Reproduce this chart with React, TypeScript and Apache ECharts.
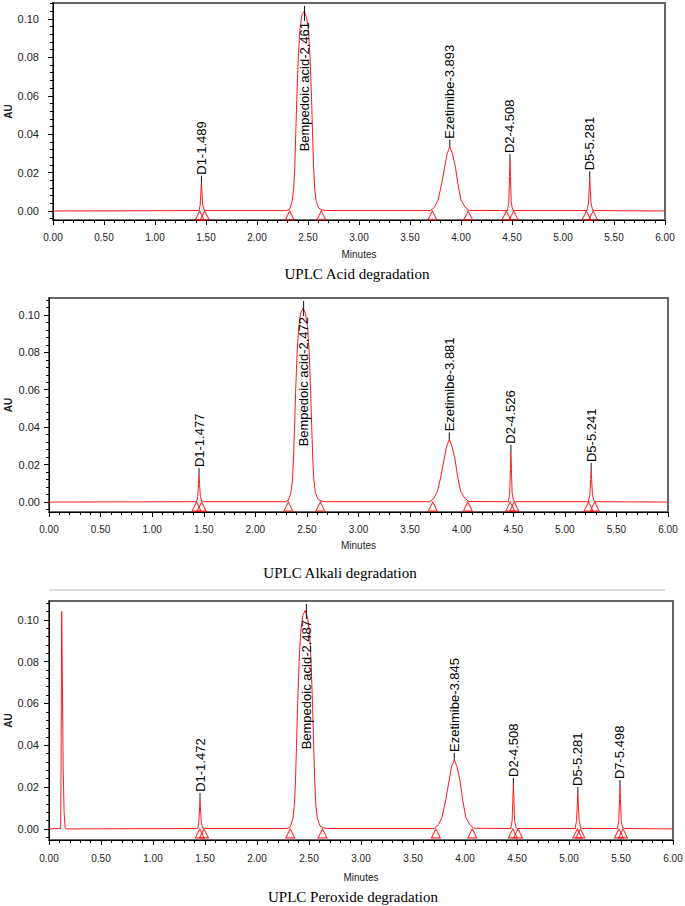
import React, { useEffect, useRef } from "react";
import * as echarts from "echarts";

type Pt = [number, number];
type Peak = { label: string; t: number; h: number };

// ---- axis tick values ----
const minuteTicks = [0, 0.5, 1, 1.5, 2, 2.5, 3, 3.5, 4, 4.5, 5, 5.5, 6];
const auTicks = [0, 0.02, 0.04, 0.06, 0.08, 0.1];
const auMinorTicks = [
  -0.004, 0.004, 0.008, 0.012, 0.016, 0.024, 0.028, 0.032, 0.036, 0.044, 0.048, 0.052, 0.056,
  0.064, 0.068, 0.072, 0.076, 0.084, 0.088, 0.092, 0.096, 0.104, 0.108,
];

// ---- Acid degradation ----
const acidTrace: Pt[] = [
  [0.0, 0.0], [1.43, 0.0002], [1.443, 0.003], [1.45, 0.01], [1.455, 0.0147], [1.46, 0.01], [1.468, 0.003], [1.48, 0.0006], [1.5, 0.0002],
  [2.28, 0.0002], [2.3, 0.0004], [2.32, 0.001], [2.345, 0.005], [2.36, 0.012], [2.37, 0.023], [2.38, 0.04], [2.39, 0.058], [2.405, 0.08], [2.42, 0.094], [2.44, 0.102], [2.462, 0.104], [2.485, 0.101], [2.505, 0.094], [2.52, 0.08], [2.535, 0.058], [2.545, 0.04], [2.555, 0.023], [2.565, 0.012], [2.58, 0.005], [2.605, 0.0015], [2.64, 0.0005], [2.68, 0.0002],
  [3.7, 0.0002], [3.74, 0.002], [3.775, 0.0057], [3.81, 0.014], [3.84, 0.023], [3.865, 0.03], [3.89, 0.0335], [3.915, 0.03], [3.945, 0.023], [3.97, 0.014], [4.0, 0.0057], [4.04, 0.002], [4.08, 0.0003],
  [4.455, 0.0002], [4.468, 0.004], [4.476, 0.018], [4.48, 0.026], [4.485, 0.018], [4.492, 0.005], [4.505, 0.0008], [4.52, 0.0002],
  [5.235, 0.0002], [5.25, 0.004], [5.257, 0.012], [5.262, 0.017], [5.267, 0.012], [5.275, 0.004], [5.29, 0.0006], [5.31, 0.0002],
  [6.0, 0.0],
];
const acidPeaks: Peak[] = [
  { label: "D1-1.489", t: 1.455, h: 0.0147 },
  { label: "Bempedoic acid-2.461", t: 2.466, h: 0.104 },
  { label: "Ezetimibe-3.893", t: 3.89, h: 0.0335 },
  { label: "D2-4.508", t: 4.48, h: 0.026 },
  { label: "D5-5.281", t: 5.262, h: 0.017 },
];
const acidMarks = [1.438, 1.487, 2.32, 2.63, 3.72, 4.07, 4.445, 4.517, 5.23, 5.295];

// ---- Alkali degradation ----
const alkaliTrace: Pt[] = [
  [0.0, 0.0], [1.43, 0.0002], [1.442, 0.003], [1.449, 0.01], [1.454, 0.0144], [1.459, 0.01], [1.467, 0.003], [1.479, 0.0006], [1.5, 0.0002],
  [2.28, 0.0002], [2.3, 0.0004], [2.32, 0.001], [2.345, 0.005], [2.36, 0.012], [2.37, 0.023], [2.38, 0.04], [2.39, 0.058], [2.405, 0.08], [2.42, 0.093], [2.44, 0.101], [2.464, 0.1036], [2.487, 0.1005], [2.507, 0.093], [2.522, 0.08], [2.537, 0.058], [2.547, 0.04], [2.557, 0.023], [2.567, 0.012], [2.582, 0.005], [2.607, 0.0015], [2.64, 0.0005], [2.68, 0.0002],
  [3.69, 0.0002], [3.73, 0.002], [3.765, 0.0057], [3.8, 0.014], [3.83, 0.023], [3.855, 0.03], [3.88, 0.0335], [3.905, 0.03], [3.935, 0.023], [3.96, 0.014], [3.99, 0.0057], [4.03, 0.002], [4.07, 0.0003],
  [4.452, 0.0002], [4.465, 0.004], [4.473, 0.018], [4.477, 0.0269], [4.482, 0.018], [4.489, 0.005], [4.502, 0.0008], [4.517, 0.0002],
  [5.228, 0.0002], [5.243, 0.004], [5.25, 0.012], [5.255, 0.0171], [5.26, 0.012], [5.268, 0.004], [5.283, 0.0006], [5.303, 0.0002],
  [6.0, 0.0],
];
const alkaliPeaks: Peak[] = [
  { label: "D1-1.477", t: 1.454, h: 0.0144 },
  { label: "Bempedoic acid-2.472", t: 2.468, h: 0.1036 },
  { label: "Ezetimibe-3.881", t: 3.88, h: 0.0335 },
  { label: "D2-4.526", t: 4.477, h: 0.0269 },
  { label: "D5-5.241", t: 5.255, h: 0.0171 },
];
const alkaliMarks = [1.43, 1.48, 2.32, 2.63, 3.72, 4.06, 4.47, 4.51, 5.23, 5.29];

// ---- Peroxide degradation ----
const peroxideTrace: Pt[] = [
  [0.0, 0.0], [0.112, 0.0002], [0.116, 0.03], [0.122, 0.104], [0.128, 0.075], [0.136, 0.03], [0.145, 0.008], [0.155, 0.0005], [0.17, 0.0],
  [1.43, 0.0002], [1.44, 0.003], [1.447, 0.009], [1.452, 0.0139], [1.457, 0.009], [1.465, 0.003], [1.477, 0.0006], [1.5, 0.0002],
  [2.28, 0.0002], [2.3, 0.0004], [2.32, 0.001], [2.345, 0.005], [2.36, 0.012], [2.37, 0.023], [2.38, 0.04], [2.39, 0.058], [2.405, 0.08], [2.42, 0.094], [2.44, 0.102], [2.462, 0.1045], [2.485, 0.1015], [2.505, 0.094], [2.52, 0.08], [2.535, 0.058], [2.545, 0.04], [2.555, 0.023], [2.565, 0.012], [2.58, 0.005], [2.605, 0.0015], [2.64, 0.0005], [2.68, 0.0002],
  [3.7, 0.0002], [3.745, 0.002], [3.78, 0.0057], [3.815, 0.014], [3.847, 0.023], [3.872, 0.03], [3.897, 0.033], [3.922, 0.03], [3.952, 0.023], [3.977, 0.014], [4.007, 0.0057], [4.045, 0.002], [4.085, 0.0003],
  [4.44, 0.0002], [4.453, 0.004], [4.461, 0.015], [4.465, 0.021], [4.47, 0.015], [4.477, 0.004], [4.49, 0.0008], [4.505, 0.0002],
  [5.06, 0.0002], [5.073, 0.004], [5.08, 0.012], [5.085, 0.0167], [5.09, 0.012], [5.098, 0.004], [5.112, 0.0006], [5.13, 0.0002],
  [5.465, 0.0002], [5.478, 0.004], [5.486, 0.014], [5.49, 0.02], [5.495, 0.014], [5.502, 0.004], [5.515, 0.0006], [5.535, 0.0002],
  [6.0, 0.0],
];
const peroxidePeaks: Peak[] = [
  { label: "D1-1.472", t: 1.452, h: 0.0139 },
  { label: "Bempedoic acid-2.487", t: 2.475, h: 0.1045 },
  { label: "Ezetimibe-3.845", t: 3.897, h: 0.033 },
  { label: "D2-4.508", t: 4.465, h: 0.021 },
  { label: "D5-5.281", t: 5.085, h: 0.0167 },
  { label: "D7-5.498", t: 5.49, h: 0.02 },
];
const peroxideMarks = [1.45, 1.49, 2.32, 2.63, 3.72, 4.07, 4.46, 4.51, 5.08, 5.11, 5.48, 5.52];

const titles = ["UPLC Acid degradation", "UPLC Alkali degradation", "UPLC Peroxide degradation"];

const panels = [
  { trace: acidTrace, peaks: acidPeaks, marks: acidMarks },
  { trace: alkaliTrace, peaks: alkaliPeaks, marks: alkaliMarks },
  { trace: peroxideTrace, peaks: peroxidePeaks, marks: peroxideMarks },
];

// layout (pixels)
const layouts = [
  { left: 53, top: 3, width: 612, height: 217, ymin: -0.0047, ymax: 0.1083, xm: 12, xg: 29, ym: 14, yg: 40, tx: 357, ty: 274 },
  { left: 49, top: 298, width: 619, height: 214, ymin: -0.0053, ymax: 0.109, xm: 12, xg: 28, ym: 9, yg: 36, tx: 340, ty: 573 },
  { left: 49, top: 601, width: 624, height: 239, ymin: -0.0053, ymax: 0.109, xm: 13, xg: 32, ym: 10, yg: 36, tx: 353, ty: 897 },
];

const SANS = '"Liberation Sans", Arial, Helvetica, sans-serif';
const SERIF = '"Liberation Serif", "Times New Roman", serif';
const RED = "#ff1a1a";

export default function App() {
  const ref = useRef<HTMLDivElement>(null);
  useEffect(() => {
    if (!ref.current) return;
    const chart = echarts.init(ref.current, undefined, { renderer: "svg" });

    const grid: any[] = [];
    const xAxis: any[] = [];
    const yAxis: any[] = [];
    const series: any[] = [];

    layouts.forEach((L, i) => {
      const P = panels[i];
      grid.push({
        left: L.left,
        top: L.top,
        width: L.width,
        height: L.height,
        containLabel: false,
        outerBoundsMode: "none",
        show: true,
        borderColor: "#666",
        borderWidth: 2,
        backgroundColor: "transparent",
      });
      xAxis.push({
        gridIndex: i,
        type: "value",
        min: minuteTicks[0],
        max: minuteTicks[minuteTicks.length - 1],
        interval: 0.5,
        axisLine: { show: true, onZero: false, lineStyle: { color: "#000", width: 1 } },
        axisTick: { show: true, length: 5, lineStyle: { color: "#000" } },
        minorTick: { show: true, splitNumber: 5, length: 3, lineStyle: { color: "#000" } },
        splitLine: { show: false },
        minorSplitLine: { show: false },
        axisLabel: {
          formatter: (v: number) => v.toFixed(2),
          fontSize: 10,
          color: "#222",
          margin: L.xm,
          fontFamily: SANS,
        },
        name: "Minutes",
        nameLocation: "middle",
        nameGap: L.xg,
        nameMoveOverlap: false,
        nameTextStyle: { fontSize: 10, color: "#222", fontFamily: SANS },
      });
      yAxis.push({
        gridIndex: i,
        type: "value",
        min: L.ymin,
        max: L.ymax,
        position: "left",
        axisLine: { show: true, onZero: false, lineStyle: { color: "#000", width: 1 } },
        axisTick: { show: true, length: 5, customValues: auTicks, lineStyle: { color: "#000" } },
        axisLabel: {
          customValues: auTicks,
          formatter: (v: number) => v.toFixed(2),
          fontSize: 11,
          color: "#222",
          margin: L.ym,
          fontFamily: SANS,
        },
        splitLine: { show: false },
        name: "AU",
        nameLocation: "middle",
        nameRotate: 90,
        nameGap: L.yg,
        nameMoveOverlap: false,
        nameTextStyle: { fontSize: 10, fontWeight: "bold", color: "#222", fontFamily: SANS },
      });
      yAxis.push({
        gridIndex: i,
        type: "value",
        min: L.ymin,
        max: L.ymax,
        position: "left",
        axisLine: { show: false },
        axisTick: { show: true, length: 3, customValues: auMinorTicks, lineStyle: { color: "#000" } },
        axisLabel: { show: false },
        splitLine: { show: false },
      });

      series.push({
        type: "line",
        xAxisIndex: i,
        yAxisIndex: 2 * i,
        data: P.trace,
        showSymbol: false,
        symbol: "none",
        lineStyle: { color: RED, width: 1 },
        z: 2,
        silent: true,
      });
      series.push({
        type: "scatter",
        xAxisIndex: i,
        yAxisIndex: 2 * i,
        data: P.marks.map((t) => [t, 0]),
        symbol: "triangle",
        symbolSize: [9, 9],
        symbolOffset: [0, 4.5],
        itemStyle: { color: "rgba(0,0,0,0)", borderColor: "#ff0000", borderWidth: 1.1 },
        z: 3,
        silent: true,
      });
      const peaks = P.peaks;
      series.push({
        type: "custom",
        xAxisIndex: i,
        yAxisIndex: 2 * i,
        data: peaks.map((p) => [p.t, p.h]),
        encode: { x: 0, y: 1 },
        clip: false,
        silent: true,
        z: 4,
        renderItem: (params: any, api: any) => {
          const pk = peaks[params.dataIndex];
          const p = api.coord([pk.t, pk.h]);
          const cs = params.coordSys;
          const font = "13px " + SANS;
          if (pk.h > 0.08) {
            const y0 = cs.y + 3;
            const y1 = cs.y + 18;
            return {
              type: "group",
              children: [
                { type: "line", shape: { x1: p[0], y1: y0, x2: p[0], y2: y1 }, style: { stroke: "#111", lineWidth: 1 } },
                {
                  type: "text",
                  x: p[0],
                  y: y1 + 1,
                  rotation: Math.PI / 2,
                  style: {
                    text: pk.label,
                    font,
                    fill: "#000",
                    align: "right",
                    verticalAlign: "middle",
                    textAlign: "right",
                    textVerticalAlign: "middle",
                  },
                },
              ],
            };
          }
          const yt = p[1] - 7;
          return {
            type: "group",
            children: [
              { type: "line", shape: { x1: p[0], y1: p[1], x2: p[0], y2: yt }, style: { stroke: "#111", lineWidth: 1 } },
              {
                type: "text",
                x: p[0],
                y: yt - 1,
                rotation: Math.PI / 2,
                style: {
                  text: pk.label,
                  font,
                  fill: "#000",
                  align: "left",
                  verticalAlign: "middle",
                  textAlign: "left",
                  textVerticalAlign: "middle",
                },
              },
            ],
          };
        },
      });
    });

    const graphic: any[] = layouts.map((L, i) => ({
      type: "text",
      x: L.tx,
      y: L.ty,
      style: {
        text: titles[i],
        font: "15px " + SERIF,
        fill: "#000",
        align: "center",
        verticalAlign: "middle",
        textAlign: "center",
        textVerticalAlign: "middle",
      },
    }));
    graphic.push({
      type: "line",
      shape: { x1: 49, y1: 590, x2: 665, y2: 590 },
      style: { stroke: "#bbb", lineWidth: 1 },
    });

    chart.setOption({
      animation: false,
      backgroundColor: "#fff",
      textStyle: { fontFamily: SANS },
      grid,
      xAxis,
      yAxis,
      series,
      graphic,
    });
    return () => chart.dispose();
  }, []);

  return (
    <div
      ref={ref}
      style={{ position: "absolute", left: 0, top: 0, width: 685, height: 906, background: "#fff" }}
    />
  );
}
